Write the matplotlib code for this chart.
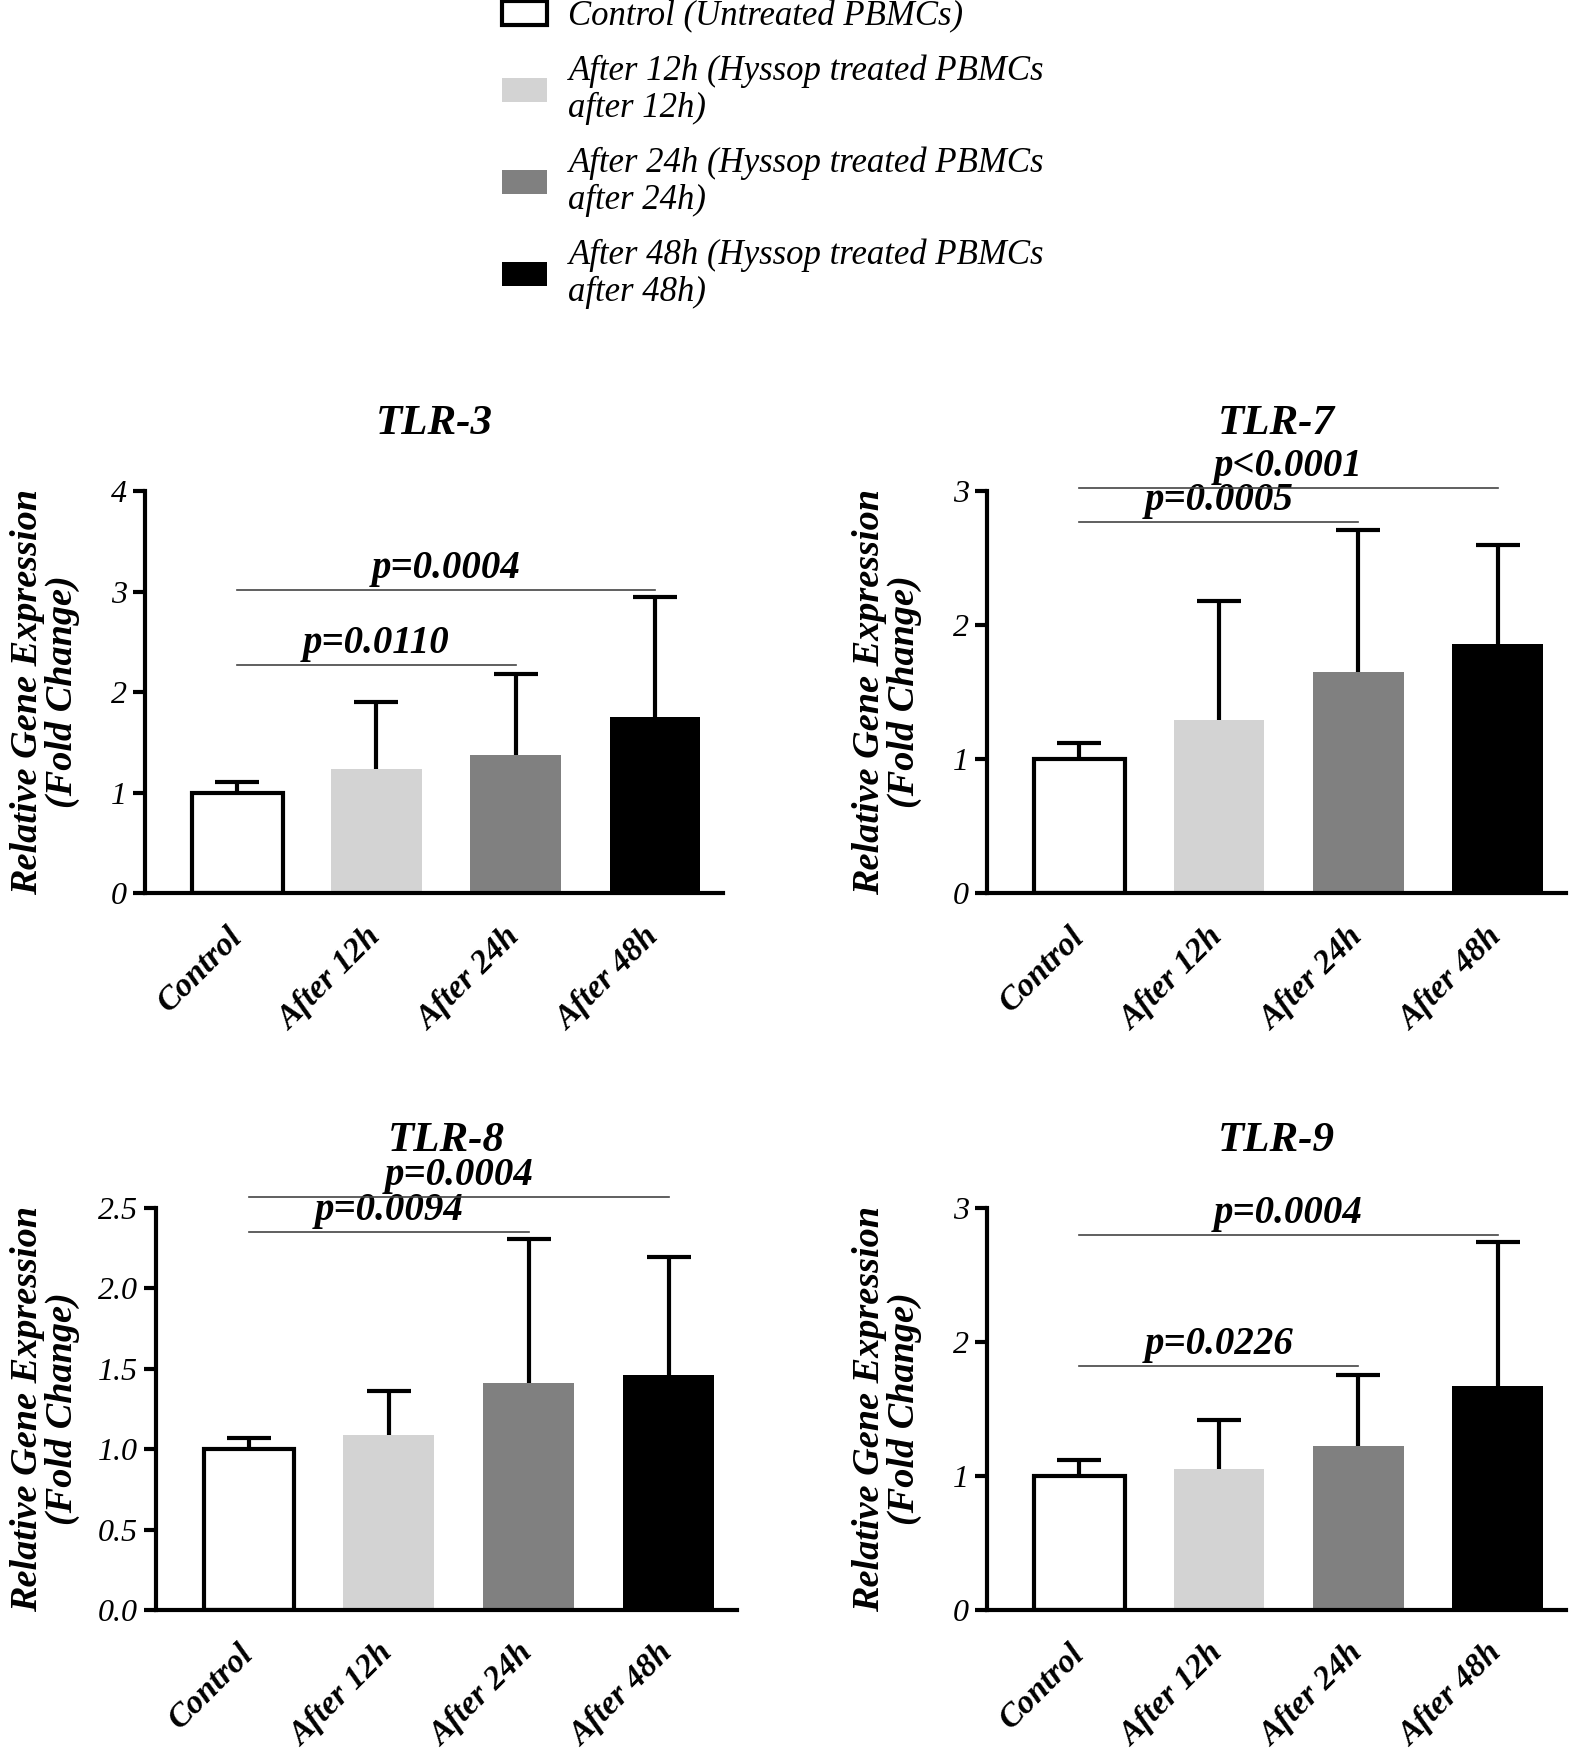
import matplotlib
matplotlib.use("Agg")
import matplotlib.pyplot as plt
from matplotlib.patches import Patch

plt.rcParams['font.family'] = ['Liberation Serif', 'DejaVu Serif']

groups = ['Control', 'After 12h', 'After 24h', 'After 48h']
legend_labels = ['Control (Untreated PBMCs)',
                 'After 12h (Hyssop treated PBMCs\nafter 12h)',
                 'After 24h (Hyssop treated PBMCs\nafter 24h)',
                 'After 48h (Hyssop treated PBMCs\nafter 48h)']
bar_colors = ['white', '#d3d3d3', '#808080', 'black']

# mean and SD per group
tlr3_mean = [1.0, 1.23, 1.375, 1.75]
tlr3_sd = [0.10, 0.67, 0.805, 1.195]
tlr3_pvals = [(0, 2, 2.27, 'p=0.0110'), (0, 3, 3.02, 'p=0.0004')]

tlr7_mean = [1.0, 1.294, 1.648, 1.858]
tlr7_sd = [0.116, 0.883, 1.062, 0.736]
tlr7_pvals = [(0, 2, 2.77, 'p=0.0005'), (0, 3, 3.026, 'p<0.0001')]

tlr8_mean = [1.0, 1.086, 1.41, 1.459]
tlr8_sd = [0.07, 0.274, 0.896, 0.734]
tlr8_pvals = [(0, 2, 2.353, 'p=0.0094'), (0, 3, 2.568, 'p=0.0004')]

tlr9_mean = [1.0, 1.053, 1.223, 1.669]
tlr9_sd = [0.12, 0.365, 0.529, 1.074]
tlr9_pvals = [(0, 2, 1.824, 'p=0.0226'), (0, 3, 2.80, 'p=0.0004')]

panels = [
    ('TLR-3', tlr3_mean, tlr3_sd, tlr3_pvals, [0, 1, 2, 3, 4], ['0', '1', '2', '3', '4'],
     [0.0910, 0.4897, 0.3628, 0.2297], -0.112),
    ('TLR-7', tlr7_mean, tlr7_sd, tlr7_pvals, [0, 1, 2, 3], ['0', '1', '2', '3'],
     [0.6195, 0.4897, 0.3635, 0.2297], -0.112),
    ('TLR-8', tlr8_mean, tlr8_sd, tlr8_pvals, [0, 0.5, 1.0, 1.5, 2.0, 2.5],
     ['0.0', '0.5', '1.0', '1.5', '2.0', '2.5'],
     [0.0980, 0.0800, 0.3647, 0.2297], -0.131),
    ('TLR-9', tlr9_mean, tlr9_sd, tlr9_pvals, [0, 1, 2, 3], ['0', '1', '2', '3'],
     [0.6195, 0.0800, 0.3635, 0.2297], -0.112),
]

fig = plt.figure(figsize=(15.93, 17.5), dpi=100)

for title, mean, sd, pvals, yticks, yticklabels, pos, labx in panels:
    ax = fig.add_axes(pos)
    x = list(range(len(groups)))
    for i in x:
        edge = 'black' if i == 0 else bar_colors[i]
        lw = 3 if i == 0 else 0
        ax.bar(i, mean[i], width=0.65, color=bar_colors[i], edgecolor=edge,
               linewidth=lw, zorder=2)
        # lower half hidden behind the bar
        ax.errorbar(i, mean[i], yerr=sd[i], fmt='none', ecolor='black',
                    elinewidth=3, capsize=16, capthick=3, zorder=1)
    for a, b, y, txt in pvals:
        ax.plot([a, b], [y, y], color='#444444', lw=1.2, zorder=3, clip_on=False)
        ax.annotate(txt, xy=((a + b) / 2, y), xytext=(0, 2), textcoords='offset points',
                    ha='center', va='bottom', fontsize=28, fontweight='bold',
                    fontstyle='italic', annotation_clip=False)
    ax.set_xlim(-0.664, 3.49)
    ax.set_ylim(0, yticks[-1])
    ax.set_yticks(yticks)
    ax.set_yticklabels(yticklabels, fontsize=23, fontstyle='italic')
    ax.set_xticks(x)
    ax.set_xticklabels(groups, rotation=45, ha='right', va='center',
                       rotation_mode='anchor', fontsize=24, fontweight='bold',
                       fontstyle='italic')
    ax.tick_params(axis='x', length=0, pad=28)
    ax.tick_params(axis='y', length=9, width=3, pad=4)
    for s in ['top', 'right']:
        ax.spines[s].set_visible(False)
    for s in ['left', 'bottom']:
        ax.spines[s].set_linewidth(3)
    ax.set_ylabel('Relative Gene Expression\n(Fold Change)', fontsize=27.5,
                  fontweight='bold', fontstyle='italic', linespacing=1.0)
    ax.yaxis.set_label_coords(labx, 0.5)
    ax.set_title(title, fontsize=31, fontweight='bold', fontstyle='italic', pad=41)

handles = [Patch(facecolor=bar_colors[i], edgecolor='black' if i == 0 else bar_colors[i],
                 linewidth=3 if i == 0 else 0) for i in range(4)]
leg = fig.legend(handles, legend_labels, loc='upper left', bbox_to_anchor=(0.315, 1.0),
                 frameon=False, prop={'size': 25, 'style': 'italic'},
                 handlelength=1.3, handleheight=0.68, handletextpad=0.62,
                 labelspacing=0.62, borderpad=0, borderaxespad=0)
for t in leg.get_texts():
    t.set_linespacing(1.15)

fig.savefig('out.png', dpi=100)
